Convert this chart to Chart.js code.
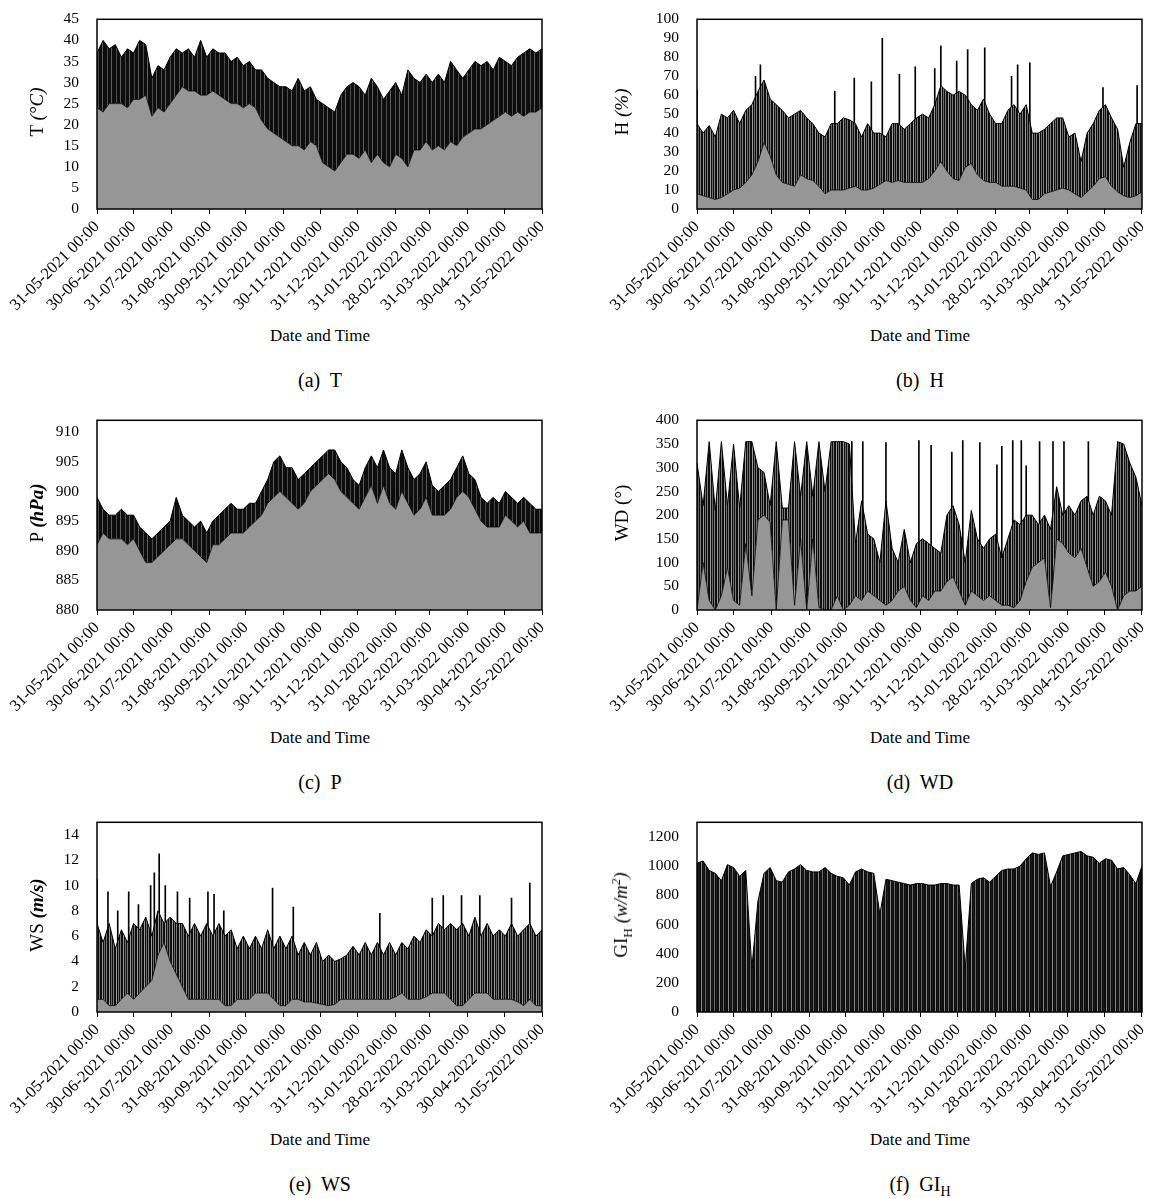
<!DOCTYPE html>
<html>
<head>
<meta charset="utf-8">
<title>Weather station time series</title>
<script src="https://cdn.jsdelivr.net/npm/chart.js@4.4.1/dist/chart.umd.min.js"></script>
<style>
    body { margin: 0; background: #fff; }
    #page { position: relative; width: 1159px; height: 1198px; font-family: "Liberation Serif", "DejaVu Serif", serif; color: #000; }
    canvas { position: absolute; }
    .ytitle { position: absolute; transform: translate(-50%, -50%) rotate(-90deg); white-space: nowrap; font-size: 19px; }
    .xtitle { position: absolute; transform: translateX(-50%); white-space: nowrap; font-size: 17px; }
    .caption { position: absolute; transform: translateX(-50%); white-space: nowrap; font-size: 20px; }
    sub, sup { font-size: 70%; }
</style>
</head>
<body>
<div id="page">
    <canvas id="chart-t" width="560" height="320" style="left:0;top:0"></canvas>
    <canvas id="chart-h" width="579" height="320" style="left:580px;top:0"></canvas>
    <canvas id="chart-p" width="560" height="320" style="left:0;top:401px"></canvas>
    <canvas id="chart-wd" width="579" height="320" style="left:580px;top:401px"></canvas>
    <canvas id="chart-ws" width="560" height="320" style="left:0;top:803px"></canvas>
    <canvas id="chart-gi" width="579" height="320" style="left:580px;top:803px"></canvas>

    <div class="ytitle" style="left:37px;top:112px">T <i>(°C)</i></div>
    <div class="ytitle" style="left:622px;top:112px">H <i>(%)</i></div>
    <div class="ytitle" style="left:37px;top:513px">P <b><i>(hPa)</i></b></div>
    <div class="ytitle" style="left:622px;top:513px">WD (°)</div>
    <div class="ytitle" style="left:37px;top:915px">WS <b><i>(m/s)</i></b></div>
    <div class="ytitle" style="left:622px;top:915px">GI<sub>H</sub> <i>(w/m<sup>2</sup>)</i></div>

    <div class="xtitle" style="left:320px;top:326px">Date and Time</div>
    <div class="xtitle" style="left:920px;top:326px">Date and Time</div>
    <div class="xtitle" style="left:320px;top:728px">Date and Time</div>
    <div class="xtitle" style="left:920px;top:728px">Date and Time</div>
    <div class="xtitle" style="left:320px;top:1130px">Date and Time</div>
    <div class="xtitle" style="left:920px;top:1130px">Date and Time</div>

    <div class="caption" style="left:320px;top:369px">(a)&nbsp; T</div>
    <div class="caption" style="left:920px;top:369px">(b)&nbsp; H</div>
    <div class="caption" style="left:320px;top:771px">(c)&nbsp; P</div>
    <div class="caption" style="left:920px;top:771px">(d)&nbsp; WD</div>
    <div class="caption" style="left:320px;top:1173px">(e)&nbsp; WS</div>
    <div class="caption" style="left:920px;top:1173px">(f)&nbsp; GI<sub>H</sub></div>
</div>

<script>
// Days since 31-05-2021 where the readings were sampled (daily max / min envelopes)
const sampleDays = [0, 5, 10, 15, 20, 25, 30, 35, 40, 45,
    50, 55, 60, 65, 70, 75, 80, 85, 90, 95,
    100, 105, 110, 115, 120, 125, 130, 135, 140, 145,
    150, 155, 160, 165, 170, 175, 180, 185, 190, 195,
    200, 205, 210, 215, 220, 225, 230, 235, 240, 245,
    250, 255, 260, 265, 270, 275, 280, 285, 290, 295,
    300, 305, 310, 315, 320, 325, 330, 335, 340, 345,
    350, 355, 360, 365];

// Month-end ticks on the time axis
const monthDays = [0, 30, 61, 92, 122, 153, 183, 214, 245, 273, 304, 334, 365];
const tickLabels = ["31-05-2021 00:00", "30-06-2021 00:00", "31-07-2021 00:00", "31-08-2021 00:00",
    "30-09-2021 00:00", "31-10-2021 00:00", "30-11-2021 00:00", "31-12-2021 00:00",
    "31-01-2022 00:00", "28-02-2022 00:00", "31-03-2022 00:00", "30-04-2022 00:00", "31-05-2022 00:00"];

// Temperature (°C)
const tMax = [37, 40, 38, 39, 36, 38, 37, 40, 39, 31,
    34, 33, 36, 38, 37, 38, 36, 40, 36, 38,
    37, 37, 35, 36, 34, 35, 33, 33, 31, 30,
    29, 29, 28, 31, 28, 29, 26, 25, 24, 23,
    27, 29, 30, 29, 27, 31, 29, 26, 28, 30,
    27, 33, 31, 30, 32, 30, 32, 30, 35, 33,
    31, 33, 35, 34, 35, 33, 36, 35, 34, 36,
    37, 38, 37, 38];
const tMin = [24, 23, 25, 25, 25, 24, 26, 26, 27, 22,
    24, 23, 25, 27, 29, 28, 28, 27, 27, 28,
    27, 26, 25, 25, 24, 25, 24, 21, 19, 18,
    17, 16, 15, 15, 14, 16, 15, 11, 10, 9,
    11, 13, 13, 12, 14, 11, 13, 11, 10, 13,
    12, 10, 14, 14, 16, 14, 15, 14, 16, 15,
    17, 18, 19, 19, 20, 21, 22, 23, 22, 23,
    22, 23, 23, 24];

// Relative humidity (%)
const hMax = [45, 40, 44, 38, 50, 48, 52, 45, 52, 55,
    62, 68, 58, 55, 52, 48, 50, 52, 48, 45,
    40, 38, 45, 45, 48, 47, 45, 38, 45, 40,
    40, 38, 45, 45, 42, 45, 48, 50, 48, 55,
    65, 62, 60, 62, 60, 55, 52, 58, 50, 45,
    45, 52, 55, 50, 55, 40, 40, 42, 45, 48,
    48, 38, 40, 25, 40, 45, 52, 55, 48, 42,
    22, 35, 45, 45];
const hMin = [8, 7, 6, 5, 6, 8, 10, 11, 14, 18,
    25, 35, 28, 18, 14, 13, 12, 18, 16, 15,
    12, 8, 10, 10, 10, 11, 12, 10, 10, 11,
    13, 15, 14, 15, 14, 14, 14, 14, 16, 20,
    25, 20, 16, 15, 22, 24, 18, 15, 14, 14,
    12, 12, 12, 11, 10, 5, 5, 8, 9, 10,
    11, 10, 8, 6, 9, 12, 16, 17, 12, 9,
    7, 6, 7, 9];
const hSpikeDays = [0, 48, 52, 113, 129, 143, 152, 166, 179, 195, 200, 213, 222, 236, 258, 263, 273, 333, 361];
const hSpikeValues = [63, 70, 76, 62, 69, 67, 90, 71, 75, 74, 86, 78, 84, 85, 70, 76, 77, 64, 65];

// Pressure (hPa)
const pMax = [899, 897, 896, 896, 897, 896, 896, 894, 893, 892,
    893, 894, 895, 899, 896, 895, 894, 895, 893, 895,
    896, 897, 898, 897, 897, 898, 898, 900, 902, 905,
    906, 904, 904, 902, 903, 904, 905, 906, 907, 907,
    905, 904, 902, 901, 904, 906, 904, 907, 904, 903,
    907, 904, 902, 903, 905, 901, 900, 901, 902, 904,
    906, 903, 902, 899, 898, 899, 898, 900, 899, 898,
    899, 898, 897, 897];
const pMin = [891, 893, 892, 892, 892, 891, 892, 890, 888, 888,
    889, 890, 891, 892, 892, 891, 890, 889, 888, 891,
    891, 892, 893, 893, 893, 894, 895, 896, 898, 899,
    900, 899, 898, 897, 898, 900, 901, 902, 903, 902,
    900, 899, 898, 897, 899, 901, 898, 901, 898, 897,
    900, 898, 896, 897, 899, 896, 896, 896, 897, 899,
    900, 899, 897, 895, 894, 894, 894, 896, 895, 894,
    895, 893, 893, 893];

// Wind direction (°)
const wdMax = [310, 220, 355, 210, 355, 220, 350, 215, 355, 355,
    300, 290, 220, 355, 215, 215, 355, 240, 355, 240,
    355, 250, 355, 355, 355, 350, 140, 230, 160, 150,
    100, 230, 130, 100, 170, 100, 140, 150, 140, 130,
    120, 200, 220, 180, 100, 210, 150, 130, 150, 160,
    110, 150, 190, 180, 200, 200, 180, 200, 170, 260,
    200, 220, 200, 230, 240, 200, 240, 230, 200, 355,
    350, 310, 280, 220];
const wdMin = [0, 100, 20, 0, 30, 90, 20, 10, 140, 30,
    190, 200, 185, 0, 190, 190, 10, 150, 0, 150,
    5, 0, 0, 30, 0, 10, 30, 20, 40, 30,
    20, 10, 20, 40, 50, 20, 5, 30, 20, 40,
    40, 60, 70, 40, 10, 40, 30, 20, 30, 20,
    10, 10, 5, 20, 60, 90, 100, 110, 5, 150,
    140, 120, 110, 130, 90, 50, 60, 80, 50, 0,
    30, 40, 40, 50];
const wdSpikeDays = [127, 136, 155, 182, 192, 209, 218, 232, 246, 250, 259, 266, 270, 281, 292, 301, 321];
const wdSpikeValues = [355, 355, 353, 357, 347, 333, 357, 353, 306, 345, 357, 357, 304, 355, 355, 355, 355];

// Wind speed (m/s)
const wsMax = [7, 5.5, 7, 5, 6.5, 5.5, 7, 6.5, 7.5, 6,
    8, 7, 7.5, 7, 7, 6, 7, 6, 7, 6,
    7, 6, 6.5, 5, 6, 5, 6, 5, 6.5, 5,
    6, 5, 6, 4.5, 5.5, 4.5, 5.5, 4, 4.5, 4,
    4.2, 4.5, 5.2, 4.5, 5.5, 4.5, 5.5, 4.5, 5.5, 4.5,
    5.5, 5, 6, 5.5, 6.5, 6, 7, 6.5, 7, 6.5,
    7, 6, 7.5, 6, 7, 6, 6.5, 6, 7, 6,
    6.5, 7, 6, 6.5];
const wsMin = [1, 1, 0.5, 0.5, 1, 1.5, 1, 1.5, 2, 2.5,
    4.5, 5.5, 4, 3, 2, 1, 1, 1, 1, 1,
    1, 0.5, 0.5, 1, 1, 1, 1.5, 1.5, 1.5, 1,
    0.5, 0.5, 1, 1, 0.8, 0.8, 0.7, 0.6, 0.5, 0.6,
    1, 1, 1, 1, 1, 1, 1, 1, 1, 1.2,
    1.5, 1, 1, 1, 1.2, 1.5, 1.5, 1.5, 1, 0.5,
    0.5, 1, 1.5, 1.5, 1.5, 1, 1, 1, 1, 0.8,
    0.5, 1, 0.5, 0.5];
const wsSpikeDays = [0, 9, 17, 26, 34, 44, 47, 51, 56, 66, 76, 91, 96, 104, 144, 161, 232, 275, 284, 299, 314, 340, 355];
const wsSpikeValues = [10.5, 9.5, 8, 9.5, 8.5, 10, 11, 12.5, 10, 9.5, 9, 9.5, 9.3, 8, 9.8, 8.3, 7.8, 9, 9.2, 9.2, 9.2, 9, 10.2];

// Global horizontal irradiance, daily peak (w/m2)
const giMax = [1020, 1035, 970, 950, 900, 1010, 990, 930, 970, 300,
    760, 950, 990, 900, 890, 960, 980, 1010, 970, 960,
    960, 990, 950, 930, 920, 870, 960, 980, 960, 950,
    670, 910, 900, 890, 880, 870, 880, 880, 870, 870,
    880, 880, 870, 870, 300, 880, 910, 920, 890, 930,
    970, 980, 980, 1000, 1050, 1090, 1080, 1090, 860, 960,
    1070, 1080, 1090, 1100, 1070, 1060, 1020, 1050, 1040, 980,
    990, 940, 880, 1000];

const serif = "'Liberation Serif', 'DejaVu Serif', serif";

// Striped fills so the dense daily lines read as a band of thin strokes
function stripes(colors) {
    const c = document.createElement("canvas");
    c.width = colors.length;
    c.height = 1;
    const g = c.getContext("2d");
    colors.forEach((col, i) => {
        g.fillStyle = col;
        g.fillRect(i, 0, 1, 1);
    });
    return g.createPattern(c, "repeat");
}
const k = "#0d0d0d";
const smoothBand = stripes([k, k, k, "#5c5c5c", k, k, k, k, "#4a4a4a"]);
const spikyBand = stripes([k, "#7a7a7a", k, k, "#9a9a9a", k, "#6a6a6a"]);
const sunBand = stripes([k, "#1a1a1a", k, k, "#8a8a8a", k, "#1a1a1a", k, "#6a6a6a"]);

// Black frame round the plot area
const frame = {
    id: "frame",
    afterDatasetsDraw(chart) {
        const a = chart.chartArea;
        const ctx = chart.ctx;
        ctx.save();
        ctx.strokeStyle = "#000";
        ctx.lineWidth = 1.5;
        ctx.strokeRect(a.left, a.top, a.right - a.left, a.bottom - a.top);
        ctx.restore();
    }
};

function points(days, values) {
    return days.map((d, i) => ({ x: d, y: values[i] }));
}

// One panel: gray area under the daily minimum, striped band up to the daily maximum,
// and single readings that shoot above the band drawn as thin strokes behind it
function drawPanel(id, p) {
    const datasets = [];
    if (p.lows) {
        datasets.push({
            data: points(sampleDays, p.lows),
            borderColor: "#000",
            borderWidth: 0.8,
            backgroundColor: "#969696",
            fill: "start",
            pointRadius: 0,
            tension: 0
        });
    }
    datasets.push({
        data: points(sampleDays, p.highs),
        borderColor: "#000",
        borderWidth: 1,
        backgroundColor: p.band,
        fill: p.lows ? "-1" : "start",
        pointRadius: 0,
        tension: 0
    });
    if (p.spikeDays) {
        datasets.push({
            type: "bar",
            data: points(p.spikeDays, p.spikeValues),
            backgroundColor: "#000",
            barThickness: 1,
            grouped: false,
            order: 5
        });
    }

    new Chart(document.getElementById(id), {
        type: "line",
        data: { datasets: datasets },
        options: {
            responsive: false,
            animation: false,
            devicePixelRatio: 1,
            layout: { padding: { top: 15, right: p.padRight, left: 0, bottom: 0 } },
            plugins: { legend: { display: false }, tooltip: { enabled: false } },
            scales: {
                x: {
                    type: "linear",
                    min: 0,
                    max: 365,
                    offset: false,
                    afterFit(scale) { scale.height = 111; },
                    afterBuildTicks(scale) { scale.ticks = monthDays.map(v => ({ value: v })); },
                    ticks: {
                        autoSkip: false,
                        minRotation: 45,
                        maxRotation: 45,
                        padding: 3,
                        color: "#000",
                        font: { family: serif, size: 16.5 },
                        callback: (value, index) => tickLabels[index]
                    },
                    grid: { display: true, offset: false, drawOnChartArea: false, drawTicks: true, tickLength: 5, color: "#000", lineWidth: 1 },
                    border: { display: false }
                },
                y: {
                    min: p.yMin,
                    max: p.yMax,
                    afterFit(scale) { scale.width = p.yWidth; },
                    ticks: {
                        stepSize: p.step,
                        includeBounds: false,
                        autoSkip: false,
                        padding: 10,
                        color: "#000",
                        font: { family: serif, size: 15.5 },
                        callback: (value) => String(value)
                    },
                    grid: { display: false },
                    border: { display: false }
                }
            }
        },
        plugins: [frame]
    });
}

drawPanel("chart-t", { lows: tMin, highs: tMax, band: smoothBand, yMin: 0, yMax: 45, step: 5, yWidth: 97, padRight: 18 });
drawPanel("chart-h", { lows: hMin, highs: hMax, band: spikyBand, spikeDays: hSpikeDays, spikeValues: hSpikeValues,
    yMin: 0, yMax: 100, step: 10, yWidth: 117, padRight: 16 });
drawPanel("chart-p", { lows: pMin, highs: pMax, band: smoothBand, yMin: 880, yMax: 912, step: 5, yWidth: 97, padRight: 18 });
drawPanel("chart-wd", { lows: wdMin, highs: wdMax, band: spikyBand, spikeDays: wdSpikeDays, spikeValues: wdSpikeValues,
    yMin: 0, yMax: 400, step: 50, yWidth: 117, padRight: 16 });
drawPanel("chart-ws", { lows: wsMin, highs: wsMax, band: spikyBand, spikeDays: wsSpikeDays, spikeValues: wsSpikeValues,
    yMin: 0, yMax: 15, step: 2, yWidth: 97, padRight: 18 });
drawPanel("chart-gi", { lows: null, highs: giMax, band: sunBand, yMin: 0, yMax: 1300, step: 200, yWidth: 117, padRight: 16 });
</script>
</body>
</html>
